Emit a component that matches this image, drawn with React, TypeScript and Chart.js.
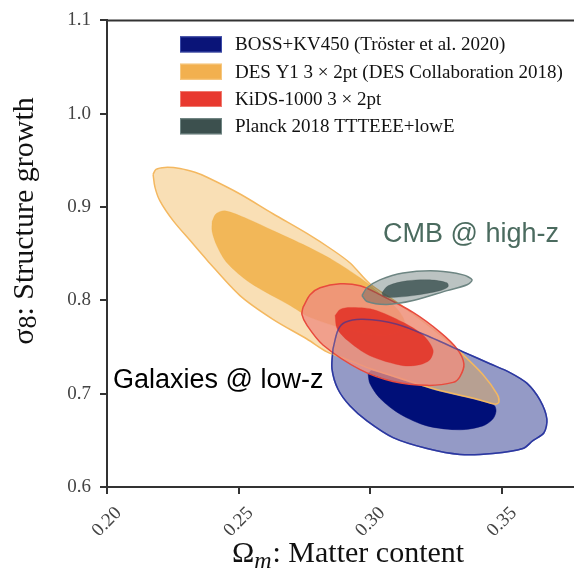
import React, { useEffect, useRef } from "react";
import { Chart, registerables } from "chart.js";

Chart.register(...registerables);

// Axis ticks
const xTicks = [0.2, 0.25, 0.3, 0.35];
const yTicks = [0.6, 0.7, 0.8, 0.9, 1.0, 1.1];
const xRange = [0.2, 0.3773];
const yRange = [0.6, 1.1];

// Confidence contours (Omega_m, sigma_8): outer = 95%, inner = 68%
const bossOuter: [number, number][] = [
  [0.2858, 0.748], [0.2877, 0.7681], [0.2904, 0.7765], [0.2972, 0.7797], [0.3101, 0.7744],
  [0.3226, 0.7607], [0.3352, 0.7448], [0.3454, 0.7321], [0.353, 0.7226], [0.3595, 0.711],
  [0.3644, 0.693], [0.367, 0.6729], [0.3659, 0.6581], [0.3617, 0.6497], [0.3579, 0.6412],
  [0.3465, 0.6359], [0.334, 0.6349], [0.3215, 0.6412], [0.3086, 0.6529], [0.2987, 0.6708],
  [0.2923, 0.6867], [0.2877, 0.7047], [0.2854, 0.7269],
];
const bossInner: [number, number][] = [
  [0.2991, 0.7216], [0.3006, 0.7247], [0.315, 0.7121], [0.3276, 0.7015], [0.3405, 0.693],
  [0.3469, 0.6877], [0.3477, 0.6814], [0.3465, 0.6729], [0.3427, 0.6655], [0.334, 0.6613],
  [0.3215, 0.6655], [0.3112, 0.6782], [0.3036, 0.6951], [0.2998, 0.711],
];
const desOuter: [number, number][] = [
  [0.2175, 0.9351], [0.2186, 0.9404], [0.222, 0.9425], [0.2277, 0.9414], [0.2334, 0.9372],
  [0.238, 0.9319], [0.2505, 0.914], [0.263, 0.8928], [0.2759, 0.8717], [0.2858, 0.8537],
  [0.2923, 0.84], [0.2998, 0.8178], [0.3112, 0.7956], [0.3253, 0.766], [0.334, 0.7448],
  [0.3427, 0.7205], [0.3481, 0.6994], [0.3488, 0.6909], [0.3473, 0.6888], [0.3405, 0.6941],
  [0.3276, 0.7025], [0.315, 0.7131], [0.2998, 0.7269], [0.2904, 0.7374], [0.2835, 0.7448],
  [0.2759, 0.7586], [0.263, 0.7797], [0.2505, 0.8051], [0.238, 0.8431], [0.2315, 0.8643],
  [0.2251, 0.8854], [0.2201, 0.9066], [0.2182, 0.9214],
];
const desInner: [number, number][] = [
  [0.2399, 0.8844], [0.2414, 0.8928], [0.2448, 0.896], [0.2532, 0.8875], [0.263, 0.8748],
  [0.2759, 0.8579], [0.2858, 0.8431], [0.2961, 0.8241], [0.3055, 0.803], [0.3112, 0.7871],
  [0.3131, 0.7744], [0.3105, 0.766], [0.3036, 0.7628], [0.2923, 0.7681], [0.2771, 0.7818],
  [0.2695, 0.7945], [0.2543, 0.8188], [0.2456, 0.84], [0.2418, 0.8579], [0.2399, 0.8738],
];
const kidsOuter: [number, number][] = [
  [0.2744, 0.7924], [0.2771, 0.8061], [0.2809, 0.8135], [0.2885, 0.8178], [0.2961, 0.8156],
  [0.3036, 0.8061], [0.3162, 0.7871], [0.3264, 0.766], [0.3329, 0.748], [0.3355, 0.7321],
  [0.334, 0.7184], [0.3314, 0.7121], [0.3215, 0.7089], [0.3086, 0.7131], [0.2961, 0.7258],
  [0.282, 0.7522], [0.2759, 0.7734], [0.274, 0.785],
];
const kidsInner: [number, number][] = [
  [0.2866, 0.7839], [0.2885, 0.7903], [0.2923, 0.7924], [0.301, 0.7903], [0.3124, 0.7765],
  [0.32, 0.7628], [0.3238, 0.7469], [0.3226, 0.7364], [0.3188, 0.7311], [0.3124, 0.73],
  [0.2998, 0.7406], [0.2911, 0.7575], [0.2873, 0.7702],
];
const planckOuter: [number, number][] = [
  [0.2968, 0.8051], [0.2987, 0.8135], [0.3036, 0.822], [0.3124, 0.8294], [0.3253, 0.8315],
  [0.3352, 0.8273], [0.3386, 0.822], [0.3367, 0.8167], [0.3291, 0.8104], [0.3162, 0.7998],
  [0.3063, 0.7956], [0.2987, 0.7987],
];
const planckInner: [number, number][] = [
  [0.3044, 0.8082], [0.3067, 0.8156], [0.3139, 0.8209], [0.3226, 0.822], [0.3291, 0.8188],
  [0.3295, 0.8146], [0.3264, 0.8104], [0.3162, 0.8051], [0.3074, 0.803], [0.3048, 0.8051],
];

// Legend entries
const legendLabels = [
  "BOSS+KV450 (Tröster et al. 2020)",
  "DES Y1 3 × 2pt (DES Collaboration 2018)",
  "KiDS-1000 3 × 2pt",
  "Planck 2018 TTTEEE+lowE",
];
const legendColors = ["#0a1478", "#f2b04f", "#e8392f", "#3c504e"];
const legendEdges = ["#3a4aa8", "#f6c77e", "#f07a6e", "#6f8583"];

// Region annotations: [text, x, y, colour]
const notes: [string, number, number, string][] = [
  ["CMB @ high-z", 0.3048, 0.8622, "#4b6b5f"],
  ["Galaxies @ low-z", 0.2023, 0.7057, "#000000"],
];

const AXIS = "#333333";
const SERIF = '"Liberation Serif", "Times New Roman", serif';
const SANS = '"Liberation Sans", Arial, Helvetica, sans-serif';

const closed = (pts: [number, number][]) =>
  [...pts, pts[0]].map(([x, y]) => ({ x, y }));

function contour(pts: [number, number][], fill: string, edge: string, width: number) {
  return {
    data: closed(pts),
    showLine: true,
    fill: fill === "none" ? false : "shape",
    backgroundColor: fill,
    borderColor: edge,
    borderWidth: width,
    pointRadius: 0,
    pointHoverRadius: 0,
    tension: 0.3,
  };
}

const overlay = {
  id: "overlay",
  afterDraw(chart: any) {
    const { ctx, chartArea, scales } = chart;
    const xs = scales.x;
    const ys = scales.y;
    ctx.save();

    // top frame line
    ctx.strokeStyle = AXIS;
    ctx.lineWidth = 2;
    ctx.beginPath();
    ctx.moveTo(chartArea.left - 1, chartArea.top);
    ctx.lineTo(chartArea.right, chartArea.top);
    ctx.stroke();

    // rotated x tick labels, centred under each tick
    ctx.fillStyle = "#444";
    ctx.font = `19px ${SERIF}`;
    ctx.textAlign = "center";
    ctx.textBaseline = "middle";
    xTicks.forEach((v) => {
      const px = xs.getPixelForValue(v);
      ctx.save();
      ctx.translate(px, chartArea.bottom + 35);
      ctx.rotate(-Math.PI / 4);
      ctx.fillText(v.toFixed(2), 0, 0);
      ctx.restore();
    });

    // x-axis title: Ω_m: Matter content
    ctx.fillStyle = "#111";
    ctx.textAlign = "left";
    ctx.textBaseline = "alphabetic";
    const big = `30px ${SERIF}`;
    const sub = `italic 24px ${SERIF}`;
    ctx.font = big;
    const wOmega = ctx.measureText("Ω").width;
    const rest = ": Matter content";
    const wRest = ctx.measureText(rest).width;
    ctx.font = sub;
    const wM = ctx.measureText("m").width;
    const total = wOmega + wM + 1 + wRest;
    let tx = 348 - total / 2;
    const ty = chartArea.bottom + 75;
    ctx.font = big;
    ctx.fillText("Ω", tx, ty);
    tx += wOmega;
    ctx.font = sub;
    ctx.fillText("m", tx, ty + 6);
    tx += wM + 1;
    ctx.font = big;
    ctx.fillText(rest, tx, ty);

    // y-axis title: σ8: Structure growth
    ctx.save();
    ctx.translate(33, 221);
    ctx.rotate(-Math.PI / 2);
    ctx.font = big;
    const ySig = "σ";
    const yRest = ": Structure growth";
    const wSig = ctx.measureText(ySig).width;
    const wYRest = ctx.measureText(yRest).width;
    ctx.font = `26px ${SERIF}`;
    const w8 = ctx.measureText("8").width;
    let yx = -(wSig + w8 + wYRest) / 2;
    ctx.font = big;
    ctx.fillText(ySig, yx, 0);
    yx += wSig;
    ctx.font = `26px ${SERIF}`;
    ctx.fillText("8", yx, 3);
    yx += w8;
    ctx.font = big;
    ctx.fillText(yRest, yx, 0);
    ctx.restore();

    // legend
    ctx.font = `19px ${SERIF}`;
    ctx.textBaseline = "middle";
    legendLabels.forEach((label, i) => {
      const cy = chartArea.top + 24 + i * 27.3;
      ctx.fillStyle = legendColors[i];
      ctx.fillRect(180, cy - 8, 42, 16);
      ctx.strokeStyle = legendEdges[i];
      ctx.lineWidth = 1;
      ctx.strokeRect(180.5, cy - 7.5, 41, 15);
      ctx.fillStyle = "#111";
      ctx.fillText(label, 235, cy + 1);
    });

    // annotations
    ctx.font = `27px ${SANS}`;
    ctx.textBaseline = "alphabetic";
    notes.forEach(([text, x, y, color]) => {
      ctx.fillStyle = color;
      ctx.fillText(text, xs.getPixelForValue(x), ys.getPixelForValue(y));
    });

    ctx.restore();
  },
};

export default function App() {
  const ref = useRef<HTMLCanvasElement | null>(null);

  useEffect(() => {
    if (!ref.current) return;
    // listed bottom layer first
    const layers = [
      contour(bossOuter, "rgba(0,14,120,0.42)", "#3342a3", 1.5),
      contour(bossInner, "#000f78", "#000f78", 0.5),
      contour(desOuter, "rgba(240,170,60,0.38)", "#f4b860", 1.5),
      contour(desInner, "rgba(240,170,60,0.77)", "rgba(240,170,60,0.5)", 0.5),
      contour(kidsOuter, "rgba(238,142,128,0.78)", "#e84a3d", 1.5),
      contour(kidsInner, "rgba(228,55,42,0.92)", "rgba(228,55,42,0.6)", 0.5),
      contour(planckOuter, "rgba(60,82,80,0.35)", "#6d8582", 1.5),
      contour(planckInner, "rgba(60,82,80,0.82)", "rgba(60,82,80,0.6)", 0.5),
      contour(bossOuter, "none", "rgba(40,50,160,0.6)", 1.5),
    ];
    const datasets = layers.map((d, i) => ({ ...d, order: layers.length - i }));

    const chart = new Chart(ref.current, {
      type: "scatter",
      data: { datasets: datasets as any },
      plugins: [overlay],
      options: {
        animation: false,
        responsive: false,
        devicePixelRatio: 1,
        layout: { padding: { top: 14, right: 0, left: 0, bottom: 0 } },
        plugins: { legend: { display: false }, tooltip: { enabled: false } },
        events: [],
        scales: {
          x: {
            type: "linear",
            min: xRange[0],
            max: xRange[1],
            afterBuildTicks: (s: any) => {
              s.ticks = xTicks.map((v) => ({ value: v }));
            },
            afterFit: (s: any) => {
              s.height = 83;
            },
            ticks: { display: false },
            grid: {
              drawOnChartArea: false,
              drawTicks: true,
              tickLength: 7,
              color: AXIS,
              lineWidth: 2,
            },
            border: { display: true, color: AXIS, width: 2 },
          },
          y: {
            type: "linear",
            min: yRange[0],
            max: yRange[1],
            afterBuildTicks: (s: any) => {
              s.ticks = yTicks.map((v) => ({ value: v }));
            },
            afterFit: (s: any) => {
              s.width = 107;
            },
            ticks: {
              padding: 9,
              color: "#444",
              font: { family: SERIF, size: 19 },
              callback: (v: any) => Number(v).toFixed(1),
            },
            grid: {
              drawOnChartArea: false,
              drawTicks: true,
              tickLength: 7,
              color: AXIS,
              lineWidth: 2,
            },
            border: { display: true, color: AXIS, width: 2 },
          },
        },
      } as any,
    });
    return () => chart.destroy();
  }, []);

  return (
    <div style={{ position: "fixed", left: 0, top: 0, width: 574, height: 570, background: "#fff" }}>
      <canvas ref={ref} width={574} height={570} />
    </div>
  );
}
